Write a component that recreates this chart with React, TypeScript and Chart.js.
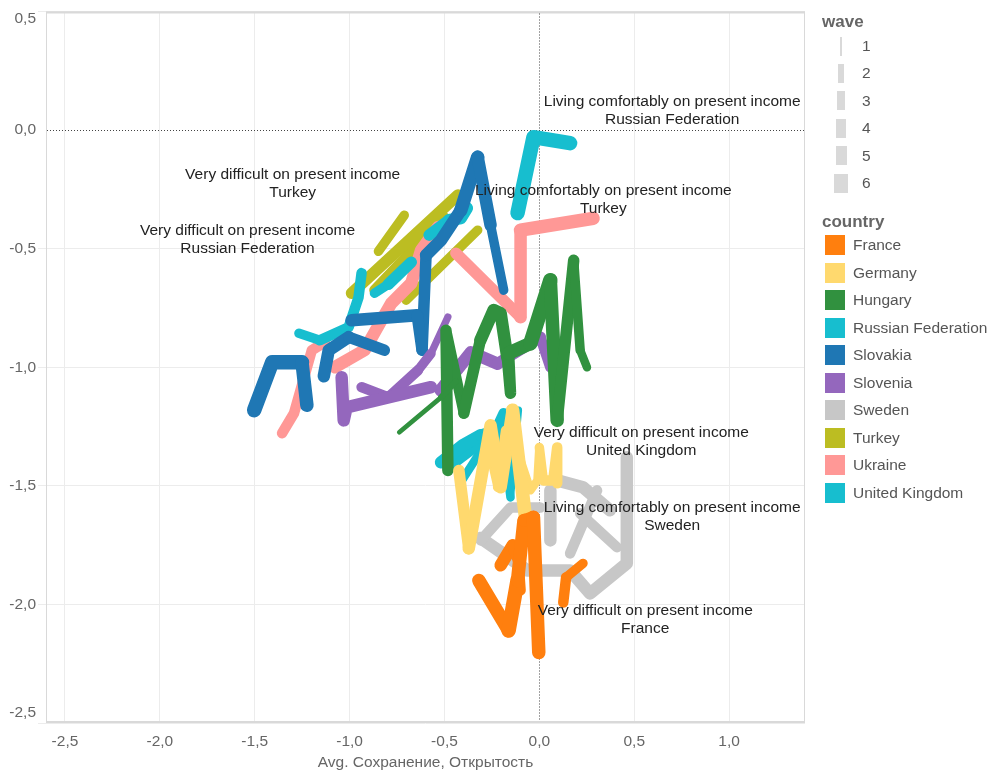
import React, { useEffect, useRef } from "react";
import { Chart, registerables } from "chart.js";

Chart.register(...registerables);

type Pt = [number, number, number]; // x, y, wave

const COUNTRIES = [
  "France", "Germany", "Hungary", "Russian Federation", "Slovakia",
  "Slovenia", "Sweden", "Turkey", "Ukraine", "United Kingdom",
];
const COUNTRY_COLORS = [
  "#ff7f0e", "#ffd96e", "#31913f", "#17becf", "#1f77b4",
  "#9467bd", "#c7c7c7", "#bcbd22", "#ff9896", "#17becf",
];
const WAVES = [1, 2, 3, 4, 5, 6];
const WAVE_WIDTHS = [3.5, 6, 8.5, 10.5, 12.5, 14.5];
const WAVE_LEGEND_WIDTHS = [2.7, 5.3, 7.3, 9.7, 11, 14.7];
const X_TICKS = [-2.5, -2, -1.5, -1, -0.5, 0, 0.5, 1];
const Y_TICKS = [0.5, 0, -0.5, -1, -1.5, -2, -2.5];
const X_TITLE = "Avg. Сохранение, Открытость";

const FRANCE: Pt[][] = [
  [[-0.319, -1.899, 5], [-0.162, -2.11, 6], [-0.115, -1.899, 6], [-0.081, -1.646, 5], [-0.031, -1.632, 5], [-0.003, -2.203, 6]],
  [[-0.204, -1.835, 5], [-0.141, -1.751, 5], [-0.11, -1.814, 4], [-0.099, -1.941, 4]],
  [[0.126, -1.992, 4], [0.141, -1.886, 4], [0.23, -1.827, 3]],
];
const GERMANY: Pt[][] = [
  [[-0.424, -1.435, 4], [-0.372, -1.764, 5], [-0.257, -1.245, 5], [-0.204, -1.506, 5], [-0.141, -1.181, 5], [-0.073, -1.633, 6]],
  [[-0.272, -1.321, 3], [-0.22, -1.506, 3], [-0.178, -1.266, 4]],
  [[-0.099, -1.392, 3], [-0.047, -1.519, 3], [-0.01, -1.477, 3], [0, -1.338, 3], [0.021, -1.477, 4], [0.073, -1.477, 4], [0.094, -1.338, 4], [0.094, -1.489, 4]],
];
const HUNGARY: Pt[][] = [
  [[-0.738, -1.274, 1], [-0.518, -1.127, 2], [-0.44, -1.06, 2]],
  [[-0.492, -0.844, 4], [-0.482, -1.435, 5]],
  [[-0.487, -0.859, 4], [-0.398, -1.194, 4], [-0.311, -0.886, 5], [-0.241, -0.759, 5], [-0.204, -0.772, 5], [-0.169, -0.958, 5], [-0.152, -1.11, 4],
   [-0.162, -0.941, 5], [-0.047, -0.899, 6], [0.058, -0.633, 6], [0.094, -1.224, 5], [0.181, -0.549, 4], [0.215, -0.928, 3], [0.251, -1.0, 3]],
];
const RUSSIA: Pt[][] = [
  [[-1.267, -0.857, 3], [-1.157, -0.886, 4], [-1.005, -0.831, 4], [-0.953, -0.705, 4], [-0.937, -0.603, 4]],
  [[-0.869, -0.688, 3], [-0.796, -0.65, 4], [-0.675, -0.557, 5]],
  [[-0.581, -0.443, 4], [-0.476, -0.38, 5], [-0.414, -0.371, 5], [-0.382, -0.329, 5]],
  [[-0.115, -0.35, 6], [-0.031, -0.03, 6], [0.162, -0.055, 6]],
];
const SLOVAKIA: Pt[][] = [
  [[-1.503, -1.181, 6], [-1.408, -0.979, 6], [-1.251, -0.979, 6], [-1.225, -1.16, 5]],
  [[-1.136, -1.038, 5], [-1.11, -0.928, 5], [-1.005, -0.873, 5], [-0.817, -0.928, 4]],
  [[-0.99, -0.802, 5], [-0.644, -0.781, 5], [-0.618, -0.928, 4]],
  [[-0.618, -0.928, 4], [-0.597, -0.527, 5], [-0.518, -0.464, 5], [-0.414, -0.338, 5], [-0.325, -0.114, 6], [-0.257, -0.401, 4], [-0.188, -0.675, 3]],
];
const SLOVENIA: Pt[][] = [
  [[-1.042, -1.042, 5], [-1.031, -1.224, 5], [-1.016, -1.169, 5], [-0.571, -1.084, 5]],
  [[-0.937, -1.084, 4], [-0.796, -1.127, 4], [-0.64, -1.013, 4], [-0.571, -0.942, 3], [-0.482, -0.788, 2]],
  [[-0.52, -1.097, 5], [-0.361, -0.937, 5], [-0.22, -0.985, 5], [0.005, -0.873, 4], [0.058, -1.0, 4]],
];
const SWEDEN: Pt[][] = [
  [[-0.309, -1.73, 4], [-0.152, -1.591, 4], [0.005, -1.591, 4]],
  [[-0.309, -1.72, 5], [-0.063, -1.857, 5], [0.162, -1.857, 5], [0.267, -1.954, 5], [0.461, -1.827, 5], [0.461, -1.38, 5]],
  [[0.058, -1.519, 5], [0.058, -1.73, 5]],
  [[0.094, -1.477, 5], [0.23, -1.506, 5], [0.372, -1.603, 5]],
  [[0.162, -1.785, 4], [0.304, -1.519, 4]],
  [[0.215, -1.616, 4], [0.409, -1.759, 4]],
];
const TURKEY: Pt[][] = [
  [[-0.848, -0.511, 3], [-0.712, -0.359, 4]],
  [[-0.99, -0.688, 4], [-0.429, -0.274, 5]],
  [[-0.869, -0.675, 4], [-0.503, -0.367, 4]],
  [[-0.702, -0.717, 3], [-0.325, -0.422, 4]],
];
const UKRAINE: Pt[][] = [
  [[-1.356, -1.278, 4], [-1.293, -1.194, 4], [-1.199, -0.928, 4], [-1.131, -0.895, 4]],
  [[-1.079, -1.0, 5], [-0.921, -0.928, 5], [-0.832, -0.802, 5], [-0.78, -0.73, 5], [-0.675, -0.646, 5], [-0.623, -0.506, 5], [-0.534, -0.409, 5]],
  [[-0.44, -0.519, 4], [-0.099, -0.789, 5], [-0.099, -0.422, 5], [0.283, -0.372, 6]],
];
const UK: Pt[][] = [
  [[-0.518, -1.401, 5], [-0.403, -1.329, 5], [-0.309, -1.287, 5], [-0.23, -1.266, 4], [-0.188, -1.194, 4]],
  [[-0.466, -1.414, 4], [-0.361, -1.35, 4], [-0.246, -1.3, 4]],
  [[-0.414, -1.485, 3], [-0.272, -1.308, 3], [-0.22, -1.414, 3], [-0.204, -1.224, 3], [-0.152, -1.549, 3], [-0.11, -1.181, 2]],
];

const COUNTRY_PATHS: Pt[][][] = [FRANCE, GERMANY, HUNGARY, RUSSIA, SLOVAKIA, SLOVENIA, SWEDEN, TURKEY, UKRAINE, UK];
// drawing order, top-most first
const DRAW_ORDER = ["France", "Germany", "Hungary", "Slovenia", "Slovakia", "Russian Federation", "Ukraine", "Turkey", "United Kingdom", "Sweden"];

const NOTE_LINE1 = [
  "Living comfortably on present income",
  "Very difficult on present income",
  "Living comfortably on present income",
  "Very difficult on present income",
  "Very difficult on present income",
  "Living comfortably on present income",
  "Very difficult on present income",
];
const NOTE_LINE2 = ["Russian Federation", "Turkey", "Turkey", "Russian Federation", "United Kingdom", "Sweden", "France"];
const NOTE_X = [0.70, -1.30, 0.337, -1.538, 0.537, 0.70, 0.558];
const NOTE_Y = [0.08, -0.228, -0.295, -0.464, -1.316, -1.629, -2.063];

const FONT = "'Liberation Sans', Arial, sans-serif";
const fmt = (v: number) => v.toFixed(1).replace(".", ",");

const decorPlugin = {
  id: "decor",
  beforeDatasetsDraw(chart: any) {
    const { ctx, chartArea: a, scales } = chart;
    ctx.save();
    ctx.strokeStyle = "#d9d9d9";
    ctx.lineWidth = 1;
    ctx.strokeRect(a.left + 0.5, a.top + 0.5, a.right - a.left - 1, a.bottom - a.top - 1);
    ctx.lineWidth = 2;
    ctx.beginPath();
    ctx.moveTo(a.left, a.top + 1);
    ctx.lineTo(a.right, a.top + 1);
    ctx.moveTo(a.left, a.bottom - 1);
    ctx.lineTo(a.right, a.bottom - 1);
    ctx.stroke();
    // reference lines at 0
    ctx.strokeStyle = "#444";
    ctx.lineWidth = 1;
    ctx.setLineDash([1, 2]);
    const x0 = Math.round(scales.x.getPixelForValue(0)) + 0.5;
    const y0 = Math.round(scales.y.getPixelForValue(0)) + 0.5;
    ctx.beginPath();
    ctx.moveTo(x0, a.top + 2);
    ctx.lineTo(x0, a.bottom - 2);
    ctx.moveTo(a.left + 1, y0);
    ctx.lineTo(a.right - 1, y0);
    ctx.stroke();
    ctx.restore();
  },
  afterDatasetsDraw(chart: any) {
    const { ctx, chartArea: a, scales } = chart;
    ctx.save();
    ctx.font = `15.5px ${FONT}`;
    ctx.fillStyle = "#222";
    ctx.textAlign = "center";
    ctx.textBaseline = "middle";
    NOTE_LINE1.forEach((l1, i) => {
      const px = scales.x.getPixelForValue(NOTE_X[i]);
      const py = scales.y.getPixelForValue(NOTE_Y[i]);
      ctx.fillText(l1, px, py - 9);
      ctx.fillText(NOTE_LINE2[i], px, py + 9);
    });
    // y tick labels (Tableau keeps edge labels inside the pane)
    ctx.font = `15.5px ${FONT}`;
    ctx.fillStyle = "#666";
    ctx.textAlign = "right";
    Y_TICKS.forEach((v) => {
      let py = scales.y.getPixelForValue(v);
      py = Math.min(Math.max(py, a.top + 7), a.bottom - 10);
      ctx.fillText(fmt(v), a.left - 10, py);
    });
    ctx.restore();
  },
};

export default function App() {
  const ref = useRef<HTMLCanvasElement | null>(null);

  useEffect(() => {
    if (!ref.current) return;
    const datasets: any[] = [];
    DRAW_ORDER.forEach((name) => {
      const ci = COUNTRIES.indexOf(name);
      COUNTRY_PATHS[ci].forEach((path) => {
        datasets.push({
          label: name,
          data: path.map((p) => ({ x: p[0], y: p[1] })),
          showLine: true,
          borderColor: COUNTRY_COLORS[ci],
          backgroundColor: COUNTRY_COLORS[ci],
          pointRadius: 0,
          pointHoverRadius: 0,
          borderWidth: WAVE_WIDTHS[path[0][2] - 1],
          borderCapStyle: "round",
          borderJoinStyle: "round",
          tension: 0,
          segment: {
            borderWidth: (c: any) =>
              (WAVE_WIDTHS[path[c.p0DataIndex][2] - 1] + WAVE_WIDTHS[path[c.p1DataIndex][2] - 1]) / 2,
          },
        });
      });
    });

    const chart = new Chart(ref.current, {
      type: "scatter",
      data: { datasets },
      plugins: [decorPlugin as any],
      options: {
        animation: false,
        responsive: true,
        maintainAspectRatio: false,
        layout: { padding: { top: 11.5, right: 187, bottom: 0, left: 0 } },
        plugins: { legend: { display: false }, tooltip: { enabled: false } },
        scales: {
          x: {
            type: "linear",
            min: -2.6,
            max: 1.4,
            afterBuildTicks: (s: any) => {
              s.ticks = X_TICKS.map((v) => ({ value: v }));
            },
            afterFit: (s: any) => {
              s.height = 50;
            },
            border: { display: false },
            grid: {
              drawTicks: false,
              color: (c: any) => (c.tick && c.tick.value === 0 ? "rgba(0,0,0,0)" : "#ececec"),
            },
            ticks: {
              autoSkip: false,
              maxRotation: 0,
              padding: 9,
              color: "#666",
              font: { family: FONT, size: 15.5 },
              callback: (v: any) => fmt(Number(v)),
            },
            title: {
              display: true,
              text: X_TITLE,
              color: "#666",
              font: { family: FONT, size: 15.5 },
              padding: { top: 0, bottom: 1 },
            },
          },
          y: {
            type: "linear",
            min: -2.5,
            max: 0.5,
            afterBuildTicks: (s: any) => {
              s.ticks = Y_TICKS.map((v) => ({ value: v }));
            },
            afterFit: (s: any) => {
              s.width = 46;
            },
            border: { display: false },
            grid: {
              drawTicks: true,
              tickLength: 8,
              color: (c: any) => (c.tick && c.tick.value === 0 ? "rgba(0,0,0,0)" : "#ececec"),
            },
            ticks: { display: false },
          },
        },
      },
    });
    return () => chart.destroy();
  }, []);

  const legendText: React.CSSProperties = {
    position: "absolute",
    fontFamily: FONT,
    fontSize: "15.5px",
    color: "#555",
    lineHeight: "18px",
    whiteSpace: "nowrap",
  };
  const titleText: React.CSSProperties = {
    position: "absolute",
    fontFamily: FONT,
    fontSize: "17px",
    fontWeight: "bold",
    color: "#666",
    lineHeight: "20px",
    whiteSpace: "nowrap",
  };

  return (
    <div style={{ position: "fixed", left: 0, top: 0, width: 992, height: 773, background: "#fff" }}>
      <canvas ref={ref} />
      <div style={{ ...titleText, left: 822, top: 12 }}>wave</div>
      {WAVES.map((w, i) => {
        const cy = 46 + i * 27.4;
        const bw = WAVE_LEGEND_WIDTHS[i];
        return (
          <React.Fragment key={"w" + w}>
            <div style={{ position: "absolute", left: 841 - bw / 2, top: cy - 9.5, width: bw, height: 19, background: "#d9d9d9" }} />
            <div style={{ ...legendText, left: 862, top: cy - 9 }}>{w}</div>
          </React.Fragment>
        );
      })}
      <div style={{ ...titleText, left: 822, top: 212 }}>country</div>
      {COUNTRIES.map((c, i) => {
        const cy = 245 + i * 27.55;
        return (
          <React.Fragment key={c}>
            <div style={{ position: "absolute", left: 825, top: cy - 10, width: 20, height: 20, background: COUNTRY_COLORS[i] }} />
            <div style={{ ...legendText, left: 853, top: cy - 9 }}>{c}</div>
          </React.Fragment>
        );
      })}
    </div>
  );
}
